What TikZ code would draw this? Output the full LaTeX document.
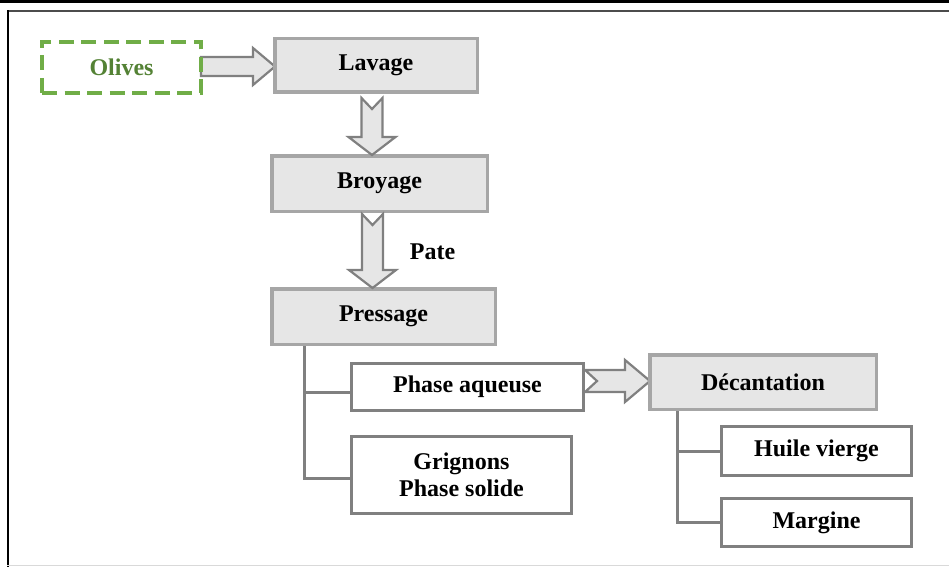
\documentclass[tikz,border=0pt]{standalone}
\usepackage{fontspec}
\setmainfont{Liberation Serif}
\usetikzlibrary{calc,backgrounds}
\definecolor{boxfill}{HTML}{E6E6E6}
\definecolor{lightborder}{HTML}{A6A6A6}
\definecolor{darkborder}{HTML}{808080}
\definecolor{olivegreen}{HTML}{70AD47}
\definecolor{olivetext}{HTML}{548235}
\tikzset{
  every node/.style={font=\fontsize{24}{27}\selectfont\bfseries, inner sep=0pt, align=center},
  graybox/.style={draw=lightborder, fill=boxfill, line width=3.5pt, rectangle},
  whitebox/.style={draw=darkborder, fill=white, line width=3pt, rectangle},
  dashbox/.style={draw=olivegreen, line width=4pt, dash pattern=on 15pt off 7.5pt, text=olivetext, rectangle},
  blockarrow/.style={draw=darkborder, fill=boxfill, line width=2.2pt, line join=miter},
  treeline/.style={draw=darkborder, line width=3pt}
}
\newcommand\vblockarrow[2]{\draw[blockarrow] let \p1=(#1), \p2=(#2) in
  (\x1-10.5pt,\y1) -- (\x1,\y1-11pt) -- (\x1+10.5pt,\y1) -- (\x1+10.5pt,\y2+18pt)
  -- (\x1+23.5pt,\y2+18pt) -- (\x1,\y2) -- (\x1-23.5pt,\y2+18pt) -- (\x1-10.5pt,\y2+18pt) -- cycle;}
% #1 start, #2 tip, #3 shaft half, #4 head half, #5 head length, #6 notch
\newcommand\hblockarrow[6]{\draw[blockarrow] let \p1=(#1), \p2=(#2) in
  (\x1,\y1+#3) -- (\x2-#5,\y1+#3) -- (\x2-#5,\y1+#4) -- (\x2,\y1) -- (\x2-#5,\y1-#4)
  -- (\x2-#5,\y1-#3) -- (\x1,\y1-#3) -- (\x1+#6,\y1) -- cycle;}
\begin{document}
\begin{tikzpicture}[x=1pt,y=-1pt]
\useasboundingbox (0,0) rectangle (949,567);
% frame
\draw[black, line width=3pt] (0,1.5) -- (949,1.5);
\draw[black!70, line width=2pt] (7,11.5) -- (949,11.5);
\draw[black, line width=2pt] (7.5,10.5) -- (7.5,567);
\draw[black!15, line width=1.5pt] (7,565.5) -- (949,565.5);

% nodes
\node[dashbox, minimum width=159pt, minimum height=51pt] (oli) at (121.5,67.5) {Olives};
\node[graybox, minimum width=202.5pt, minimum height=53.5pt] (lav) at (376,65.5) {Lavage};
\node[graybox, minimum width=215.5pt, minimum height=55.5pt] (bro) at (379.5,183.5) {Broyage};
\node (pate) at (432.5,252) {Pate};
\node[graybox, minimum width=223.5pt, minimum height=55.5pt] (pre) at (383.5,316.5) {Pressage};
\node[whitebox, minimum width=232pt, minimum height=47pt] (pha) at (467.5,387) {Phase aqueuse};
\node[whitebox, minimum width=220pt, minimum height=77pt] (gri) at (461.5,475) {Grignons\\Phase solide};
\node[graybox, minimum width=226.5pt, minimum height=54.5pt] (dec) at (763,382) {Décantation};
\node[whitebox, minimum width=190pt, minimum height=49pt] (hui) at (816.5,451) {Huile vierge};
\node[whitebox, minimum width=190pt, minimum height=48pt] (mar) at (816.5,522.5) {Margine};

% connectors
\begin{scope}[on background layer]
  \hblockarrow{$(oli.east)+(-2,-1)$}{$(lav.west)+(2,0)$}{9.5pt}{18.5pt}{22pt}{0pt}
  \hblockarrow{$(pha.east)+(0,-6)$}{$(dec.west)+(2,-1)$}{11pt}{21pt}{25pt}{12pt}
\end{scope}
\vblockarrow{$(lav.south)+(-4,4)$}{$(bro.north)+(-4,1)$}
\vblockarrow{$(bro.south)+(-7,1)$}{$(pre.north)+(-10.5,1)$}

\coordinate (t1) at ($(pre.south west)+(34,0)$);
\draw[treeline] (t1) |- ([yshift=-3pt]gri.west);
\draw[treeline] (t1 |- pha.west) ++(0,5) -- ([yshift=-5pt]pha.west);
\coordinate (t2) at ($(dec.south west)+(29,0)$);
\draw[treeline] (t2) |- (mar.west);
\draw[treeline] (t2 |- hui.west) -- (hui.west);
\end{tikzpicture}
\end{document}
